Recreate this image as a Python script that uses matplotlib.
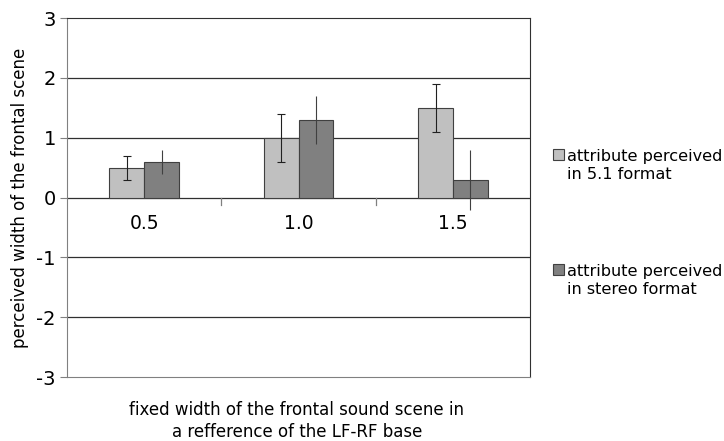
import matplotlib.pyplot as plt
import numpy as np
from matplotlib.patches import Rectangle

# data
categories = ['0.5', '1.0', '1.5']
vals_51 = [0.5, 1.0, 1.5]
err_51 = [0.2, 0.4, 0.4]
vals_stereo = [0.6, 1.3, 0.3]
err_stereo = [0.2, 0.4, 0.5]
labels = ['attribute perceived\nin 5.1 format', 'attribute perceived\nin stereo format']
colors = ['#c0c0c0', '#808080']

plt.rcParams['font.family'] = ['DejaVu Sans']

fig = plt.figure(figsize=(7.24, 4.41), dpi=100)
ax = fig.add_axes([0.0925, 0.145, 0.64, 0.814])

x = np.arange(len(categories))
w = 0.225
ax.bar(x - w / 2, vals_51, w, color=colors[0], edgecolor='#404040', linewidth=0.8, zorder=3)
ax.bar(x + w / 2, vals_stereo, w, color=colors[1], edgecolor='#404040', linewidth=0.8, zorder=3)
ax.errorbar(x - w / 2, vals_51, yerr=err_51, fmt='none', ecolor='#202020',
            elinewidth=0.8, capsize=3, capthick=0.8, zorder=4)
ax.errorbar(x + w / 2, vals_stereo, yerr=err_stereo, fmt='none', ecolor='#404040',
            elinewidth=0.8, capsize=0, zorder=4)

ax.set_xlim(-0.5, len(categories) - 0.5)
ax.set_ylim(-3, 3)
ax.set_yticks(range(-3, 4))
ax.set_yticklabels([str(v) for v in range(-3, 4)], fontsize=14)
ax.tick_params(axis='y', length=5, color='#808080', pad=3)
ax.set_xticks([])
for yv in range(-2, 3):
    ax.axhline(yv, color='#303030', linewidth=0.9, zorder=1)

# category separators at the zero line
for b in x[:-1] + 0.5:
    ax.plot([b, b], [0, -0.12], color='#808080', linewidth=0.9, zorder=2)
for xi, c in zip(x, categories):
    ax.text(xi, -0.28, c, ha='center', va='top', fontsize=13.5)

for s in ['left', 'bottom']:
    ax.spines[s].set_color('#808080')
for s in ['right', 'top']:
    ax.spines[s].set_color('#303030')

ax.set_ylabel('perceived width of the frontal scene', fontsize=12, labelpad=5)
fig.text(0.41, 0.046, 'fixed width of the frontal sound scene in\na refference of the LF-RF base',
         ha='center', va='center', fontsize=12, linespacing=1.3)

# legend
for lab, col, ty in zip(labels, colors, [0.643, 0.383]):
    fig.patches.append(Rectangle((0.764, ty - 0.006), 0.0145, 0.024, transform=fig.transFigure,
                                 facecolor=col, edgecolor='#404040', linewidth=0.8))
    fig.text(0.783, ty + 0.019, lab, ha='left', va='top', fontsize=11.6, linespacing=1.25)

fig.savefig('out.png', dpi=100)
